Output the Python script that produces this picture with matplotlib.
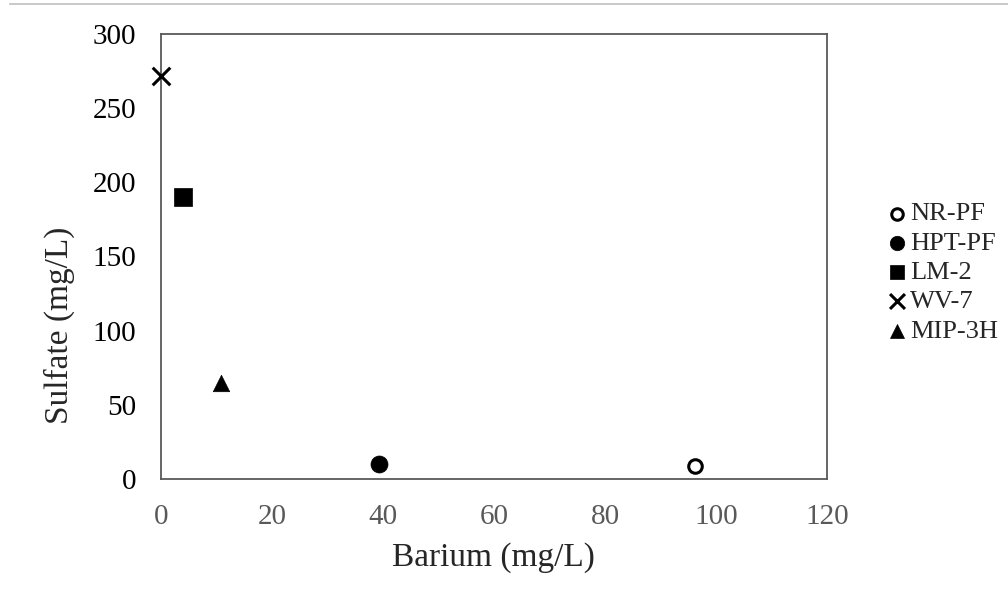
import matplotlib
matplotlib.use("Agg")
import matplotlib.pyplot as plt
from matplotlib.lines import Line2D

plt.rcParams['font.family'] = ['Liberation Serif', 'DejaVu Serif']

names = ["NR-PF", "HPT-PF", "LM-2", "WV-7", "MIP-3H"]
barium = [96.3, 39.3, 3.9, 0.0, 10.8]
sulfate = [9.0, 10.0, 190.0, 271.5, 65.0]
markers = ["o", "o", "s", "x", "^"]
facecolors = ["white", "black", "black", "black", "black"]
sizes = [95, 150, 150, 160, 140]
xticks = [0, 20, 40, 60, 80, 100, 120]
yticks = [0, 50, 100, 150, 200, 250, 300]

fig = plt.figure(figsize=(10.08, 6.08), dpi=100)
ax = fig.add_axes([161/1008, 1 - 479/608, (827-161)/1008, (479-34)/608])

for n, x, y, m, fc, s in zip(names, barium, sulfate, markers, facecolors, sizes):
    if m == "x":
        ax.scatter([x], [y], marker=m, s=s, color="black", linewidths=2.2, label=n,
                   clip_on=False, zorder=3)
    elif fc == "white":
        ax.scatter([x], [y], marker=m, s=s, facecolors=fc, edgecolors="black",
                   linewidths=2.2, label=n, clip_on=False, zorder=3)
    else:
        ax.scatter([x], [y], marker=m, s=s, facecolors=fc, edgecolors="black",
                   linewidths=0.5, label=n, clip_on=False, zorder=3)

ax.set_xlim(0, 120)
ax.set_ylim(0, 300)
ax.set_xticks(xticks)
ax.set_yticks(yticks)
ax.tick_params(length=0)
ax.tick_params(axis='x', labelsize=21, labelcolor="#595959", pad=18)
ax.tick_params(axis='y', labelsize=21, labelcolor="black", pad=18)
for sp in ax.spines.values():
    sp.set_color("#595959")
    sp.set_linewidth(1.3)

ax.set_xlabel("Barium (mg/L)", fontsize=24, color="#262626")
ax.set_ylabel("Sulfate (mg/L)", fontsize=24, color="#262626")
ax.xaxis.set_label_coords((493 - 161) / 666, -(558 - 479) / 445)
ax.yaxis.set_label_coords((59 - 161) / 666, (479 - 325) / 445)
ax.xaxis.label.set_va("center")
ax.yaxis.label.set_va("center")

leg = fig.legend(loc="upper left", bbox_to_anchor=(884/1008, 1 - 202/608),
                 frameon=False, fontsize=19, handletextpad=0.0, labelspacing=0.22,
                 handlelength=1.0, borderaxespad=0, borderpad=0, markerscale=0.85)
for t in leg.get_texts():
    t.set_color("#262626")

fig.add_artist(Line2D([10/1008, 1], [1 - 4/608, 1 - 4/608], color="#c0c0c0",
                      linewidth=1.2, transform=fig.transFigure))

fig.savefig("out.png", dpi=100, facecolor="white")
